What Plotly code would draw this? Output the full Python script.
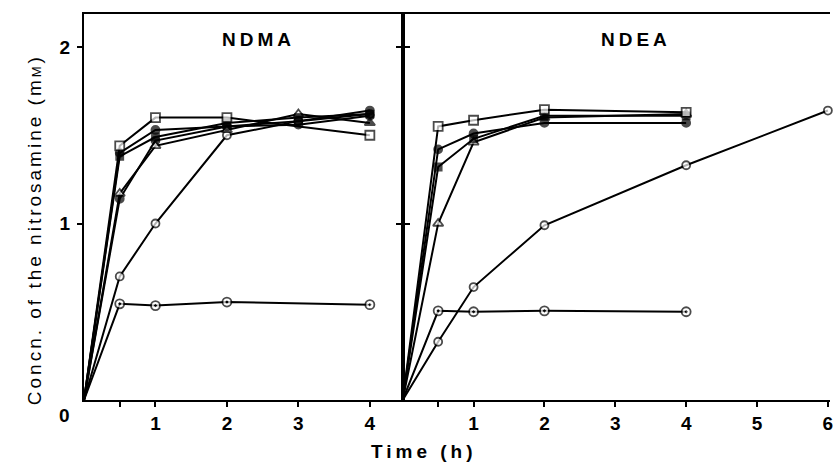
import plotly.graph_objects as go

# ---------------- data ----------------
ndma_time_a = [0, 0.5, 1, 2, 4]
ndma_time_b = [0, 0.5, 1, 2, 3, 4]

ndma_open_sq = [0, 1.44, 1.60, 1.60, 1.50]
ndma_fill_circ = [0, 1.40, 1.53, 1.55, 1.58, 1.64]
ndma_fill_sq = [0, 1.38, 1.49, 1.57, 1.60, 1.62]
ndma_open_tri = [0, 1.17, 1.44, 1.53, 1.62, 1.57]
ndma_fill_circ2 = [0, 1.14, 1.47, 1.55, 1.56, 1.61]
ndma_open_circ = [0, 0.70, 1.00, 1.50, 1.58, 1.62]
ndma_dot_circ = [0, 0.545, 0.535, 0.555, 0.54]

ndea_time_a = [0, 0.5, 1, 2, 4]
ndea_time_b = [0, 0.5, 1, 2, 4, 6]

ndea_open_sq = [0, 1.55, 1.585, 1.645, 1.63]
ndea_fill_circ = [0, 1.42, 1.51, 1.57, 1.57]
ndea_fill_sq = [0, 1.32, 1.48, 1.61, 1.61]
ndea_open_tri = [0, 1.00, 1.46, 1.60, 1.62]
ndea_open_circ = [0, 0.33, 0.64, 0.99, 1.33, 1.64]
ndea_dot_circ = [0, 0.505, 0.50, 0.505, 0.50]

left_ticks = [0.5, 1, 2, 3, 4]
left_ticktext = ["", "1", "2", "3", "4"]
right_ticks = [0.5, 1, 2, 3, 4, 5, 6]
right_ticktext = ["", "1", "2", "3", "4", "5", "6"]
y_ticks = [1, 2]
y_ticktext = ["1", "2"]

y_title = "Concn. of the nitrosamine (m<span style='font-size:13px'>M</span>)"
x_title = "Time (h)"
panel_titles = ["NDMA", "NDEA"]

# ---------------- figure ----------------
fig = go.Figure()
FONT = "Liberation Sans, Arial, Helvetica, sans-serif"


def add(xs, ys, symbol, fill, size, xa, ya, colors=None):
    sizes = [0] + [size] * (len(xs) - 1)
    fig.add_trace(go.Scatter(
        x=xs, y=ys, mode="lines+markers", xaxis=xa, yaxis=ya,
        line=dict(color="black", width=2),
        marker=dict(symbol=symbol, size=sizes,
                    color=colors if colors is not None else fill,
                    line=dict(color="black", width=1.8)),
        cliponaxis=False, showlegend=False, hoverinfo="skip"))


# NDMA panel
add(ndma_time_b, ndma_open_circ, "circle", "white", 8, "x", "y")
add(ndma_time_a, ndma_dot_circ, "circle-dot", "white", 9, "x", "y")
add(ndma_time_b, ndma_fill_circ2, "circle", "black", 8, "x", "y")
add(ndma_time_b, ndma_open_tri, "triangle-up", "white", 9, "x", "y",
    colors=["white"] * 5 + ["black"])
add(ndma_time_b, ndma_fill_sq, "square", "black", 7, "x", "y")
add(ndma_time_b, ndma_fill_circ, "circle", "black", 8, "x", "y")
add(ndma_time_a, ndma_open_sq, "square", "white", 9, "x", "y")

# NDEA panel
add(ndea_time_b, ndea_open_circ, "circle", "white", 8, "x2", "y2")
add(ndea_time_a, ndea_dot_circ, "circle-dot", "white", 9, "x2", "y2")
add(ndea_time_a, ndea_open_tri, "triangle-up", "white", 9, "x2", "y2",
    colors=["white", "white", "white", "black", "black"])
add(ndea_time_a, ndea_fill_sq, "square", "black", 7, "x2", "y2")
add(ndea_time_a, ndea_fill_circ, "circle", "black", 8, "x2", "y2")
add(ndea_time_a, ndea_open_sq, "square", "white", 9, "x2", "y2")

W, H = 835, 465
L, R, T, B = 84, 2, 14, 65
pw = W - L - R
split = (404 - L) / pw

tick_font = dict(family=FONT, size=19, color="black", weight="bold")
axis_common = dict(showgrid=False, zeroline=False, showline=True,
                   linecolor="black", linewidth=2, ticks="outside",
                   ticklen=5, tickwidth=2, tickcolor="black",
                   ticklabeloverflow="allow", tickfont=tick_font)

fig.update_layout(
    width=W, height=H,
    margin=dict(l=L, r=R, t=T, b=B, pad=0),
    paper_bgcolor="white", plot_bgcolor="white",
    xaxis=dict(domain=[0, split], range=[0, 4.46], anchor="y",
               tickmode="array", tickvals=left_ticks, ticktext=left_ticktext,
               mirror=True, **axis_common),
    xaxis2=dict(domain=[split, 1], range=[0, 6.03], anchor="y2",
                tickmode="array", tickvals=right_ticks, ticktext=right_ticktext,
                mirror=True, **axis_common),
    yaxis=dict(domain=[0, 1], range=[0, 2.187], anchor="x",
               tickmode="array", tickvals=y_ticks, ticktext=y_ticktext,
               mirror="ticks", ticklabelstandoff=3, **axis_common),
    yaxis2=dict(domain=[0, 1], range=[0, 2.187], anchor="x2",
                tickmode="array", tickvals=y_ticks, ticktext=y_ticktext,
                showticklabels=False, **axis_common),
)

fig.add_annotation(text="<span style='letter-spacing:4px'>" + panel_titles[0] + "</span>",
                   x=2.44, y=2.04, xref="x", yref="y", showarrow=False,
                   font=dict(family=FONT, size=19, color="black", weight="bold"))
fig.add_annotation(text="<span style='letter-spacing:4px'>" + panel_titles[1] + "</span>",
                   x=3.29, y=2.04, xref="x2", yref="y2", showarrow=False,
                   font=dict(family=FONT, size=19, color="black", weight="bold"))
fig.add_annotation(text="<span style='letter-spacing:4px'>" + x_title + "</span>",
                   x=(425 - L) / pw, y=(400 - 451) / (H - T - B),
                   xref="paper", yref="paper", showarrow=False,
                   xanchor="center", yanchor="middle",
                   font=dict(family=FONT, size=19, color="black", weight="bold"))
fig.add_annotation(text="<span style='letter-spacing:3px'>" + y_title + "</span>",
                   x=(34 - L) / pw, y=(400 - 230) / (H - T - B),
                   xref="paper", yref="paper", showarrow=False, textangle=-90,
                   xanchor="center", yanchor="middle",
                   font=dict(family=FONT, size=19, color="black"))
fig.add_annotation(text="0", x=(64 - L) / pw, y=(400 - 416) / (H - T - B),
                   xref="paper", yref="paper", showarrow=False,
                   xanchor="center", yanchor="middle", font=tick_font)

fig.write_html("out.html")
